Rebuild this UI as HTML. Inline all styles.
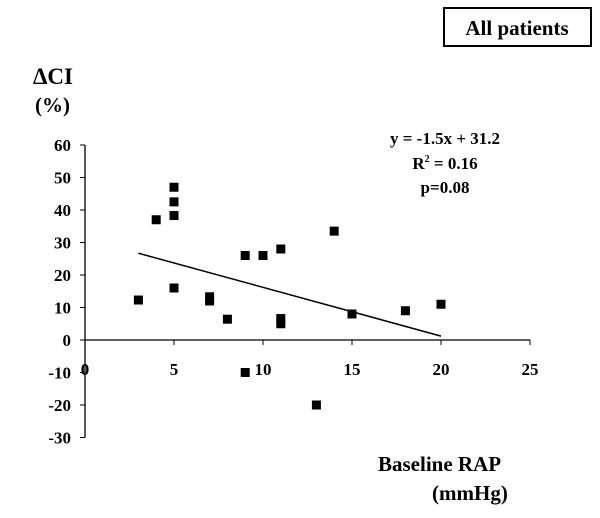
<!DOCTYPE html>
<html><head><meta charset="utf-8"><style>
body{margin:0;background:#fff;width:600px;height:513px;overflow:hidden}
text{font-family:"Liberation Serif",serif;font-weight:bold;fill:#000}
</style></head><body>
<svg width="600" height="513">
<rect x="444" y="8" width="147" height="38" fill="none" stroke="#000" stroke-width="2"/>
<text x="517" y="35" font-size="21" text-anchor="middle">All patients</text>
<text x="33" y="84" font-size="23">ΔCI</text>
<text x="35" y="112" font-size="21">(%)</text>
<text x="445" y="144" font-size="17" text-anchor="middle">y = -1.5x + 31.2</text>
<text x="445" y="169" font-size="17" text-anchor="middle">R<tspan font-size="10" dy="-7">2</tspan><tspan dy="7"> = 0.16</tspan></text>
<text x="445" y="193" font-size="17" text-anchor="middle">p=0.08</text>
<text x="378" y="471" font-size="21">Baseline RAP</text>
<text x="432" y="500" font-size="21">(mmHg)</text>
<g id="g"></g>
</svg>
<script>
const xs=[3,4,5,5,5,5,7,7,8,9,10,11,11,11,9,13,14,15,18,20];
const ys=[12.3,37,47,42.5,38.3,16,13.3,12,6.4,26,26,28,6.6,5,-10,-20,33.5,8,9,11];
const slope=-1.5, intercept=31.2, fitX=[3,20];
const yTicks=[60,50,40,30,20,10,0,-10,-20,-30];
const xTicks=[0,5,10,15,20,25];
const X=v=>85+v*17.8, Y=v=>340-v*3.25;
const NS="http://www.w3.org/2000/svg", g=document.getElementById('g');
function mk(t,a){const e=document.createElementNS(NS,t);for(const k in a)e.setAttribute(k,a[k]);g.appendChild(e);return e;}
let e=mk('line',{x1:X(0),y1:Y(60),x2:X(0),y2:Y(-30),stroke:'#000','stroke-width':1.3});


e=mk('line',{x1:X(0),y1:Y(0),x2:X(25),y2:Y(0),stroke:'#000','stroke-width':1.3});


yTicks.forEach(v=>{
 const t=mk('line',{x1:X(0)-5,y1:Y(v),x2:X(0),y2:Y(v),stroke:'#000'});
 
 
 const l=mk('text',{x:71,y:Y(v)+6,'font-size':17,'text-anchor':'end'});l.textContent=v;
 
 
});
xTicks.forEach(v=>{
 const t=mk('line',{x1:X(v),y1:Y(0),x2:X(v),y2:Y(0)+5,stroke:'#000'});
 
 
 const l=mk('text',{x:X(v),y:375,'font-size':17,'text-anchor':'middle'});l.textContent=v;
 
 
});
e=mk('line',{x1:X(fitX[0]),y1:Y(slope*fitX[0]+intercept),x2:X(fitX[1]),y2:Y(slope*fitX[1]+intercept),stroke:'#000','stroke-width':1.5});


xs.forEach((x,i)=>{
 const p=mk('rect',{x:X(x)-4.5,y:Y(ys[i])-4.5,width:9,height:9,fill:'#000'});
 
 
});
</script>
</body></html>
